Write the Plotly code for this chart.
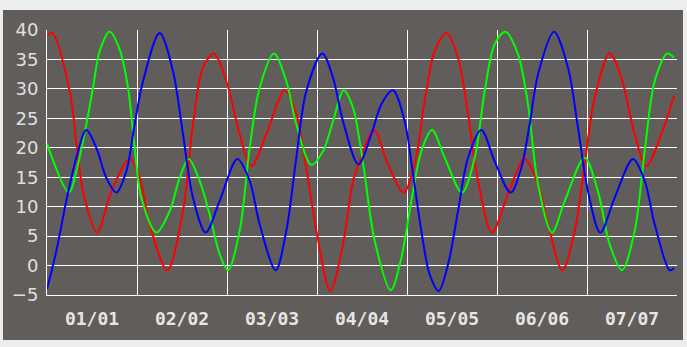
import plotly.graph_objects as go

# x in "day index" units (0..7), category labels centred in each band
tick_pos = [0.5, 1.5, 2.5, 3.5, 4.5, 5.5, 6.5]
tick_labels = ["01/01", "02/02", "03/03", "04/04", "05/05", "06/06", "07/07"]
band_edges = [1, 2, 3, 4, 5, 6]

red_x = [0.0, 0.059, 0.252, 0.333, 0.4, 0.556, 0.715, 0.919, 1.03, 1.141, 1.337, 1.511, 1.622,
         1.733, 1.852, 1.993, 2.141, 2.27, 2.437, 2.641, 2.77, 2.881, 2.993, 3.148, 3.289, 3.4,
         3.474, 3.633, 3.789, 3.963, 4.085, 4.196, 4.307, 4.437, 4.567, 4.678, 4.789, 4.944,
         5.122, 5.307, 5.456, 5.567, 5.726, 5.863, 5.974, 6.085, 6.252, 6.381, 6.53, 6.659,
         6.826, 6.967]
red_y = [39.0, 39.5, 29.6, 20.0, 12.6, 5.6, 12.6, 18.1, 14.9, 7.0, -0.8, 9.25, 24.0,
         33.6, 36.0, 31.3, 22.3, 16.9, 22.3, 29.75, 25.7, 16.6, 5.9, -4.3, 3.6, 14.3,
         17.7, 23.0, 17.2, 12.4, 17.2, 27.9, 36.4, 39.5, 35.3, 25.7, 14.4, 5.6,
         12.1, 18.1, 13.8, 7.0, -0.8, 5.9, 17.2, 28.5, 36.0, 31.9, 22.3, 16.9,
         22.3, 28.8]

green_x = [0.0, 0.244, 0.326, 0.437, 0.511, 0.585, 0.696, 0.807, 0.9, 0.974, 1.048, 1.215,
           1.363, 1.474, 1.574, 1.696, 1.807, 1.919, 2.011, 2.141, 2.252, 2.363, 2.522,
           2.659, 2.77, 2.937, 3.067, 3.178, 3.296, 3.4, 3.474, 3.530, 3.641, 3.819,
           3.937, 4.048, 4.159, 4.278, 4.419, 4.611, 4.752, 4.863, 4.974, 5.093, 5.233,
           5.344, 5.456, 5.611, 5.752, 5.974, 6.122, 6.252, 6.389, 6.530, 6.641, 6.752,
           6.893, 6.967]
green_y = [20.7, 12.4, 16.0, 24.0, 30.2, 36.4, 39.7, 36.7, 30.2, 20.0, 11.5, 5.6,
           9.25, 14.9, 18.1, 14.4, 8.7, 1.9, -0.8, 5.9, 20.0, 30.2, 36.0,
           31.3, 24.0, 17.1, 19.4, 24.5, 29.75, 26.8, 21.1, 15.5, 4.2, -4.2,
           1.3, 10.95, 19.4, 23.0, 18.3, 12.4, 18.3, 29.6, 37.6, 39.7, 35.9,
           27.4, 13.8, 5.6, 10.95, 18.3, 12.6, 3.6, -0.8, 5.9, 19.4, 31.3,
           36.0, 35.3]

blue_x = [0.0, 0.104, 0.215, 0.326, 0.437, 0.548, 0.659, 0.77, 0.881, 0.974, 1.067, 1.252,
          1.4, 1.511, 1.622, 1.763, 1.919, 2.115, 2.252, 2.363, 2.541, 2.659, 2.77, 2.881,
          3.059, 3.178, 3.289, 3.46, 3.604, 3.715, 3.844, 3.974, 4.067, 4.159, 4.252,
          4.352, 4.456, 4.567, 4.678, 4.826, 4.974, 5.152, 5.270, 5.363, 5.456, 5.633,
          5.789, 5.9, 6.011, 6.148, 6.307, 6.511, 6.641, 6.752, 6.919, 6.967]
blue_y = [-4.0, 2.5, 11.0, 18.3, 23.0, 20.0, 14.9, 12.4, 16.0, 24.0, 31.3, 39.5,
          33.0, 22.3, 11.5, 5.6, 11.0, 18.1, 14.4, 7.0, -0.8, 5.9, 18.3, 29.6,
          36.0, 31.9, 24.5, 17.2, 22.3, 27.4, 29.75, 24.5, 15.5, 5.9, -1.5,
          -4.3, 0.2, 9.25, 18.3, 23.0, 17.7, 12.4, 16.6, 24.0, 32.5, 39.7,
          33.6, 23.4, 12.6, 5.6, 11.5, 18.1, 14.4, 7.0, -0.8, -0.4]

W, H = 687, 347
ML, MR, MT, MB = 47, 10, 30, 52
PW, PH = W - ML - MR, H - MT - MB

def px_x(p):
    return (p - ML) / PW

def px_y(p):
    return (H - MB - p) / PH

DARK = "#605d5a"

fig = go.Figure()
for xs, ys, col in [(red_x, red_y, "#ff0000"), (green_x, green_y, "#00ff00"), (blue_x, blue_y, "#0000ff")]:
    fig.add_trace(go.Scatter(x=xs, y=ys, mode="lines", line=dict(color=col, width=2, shape="spline", smoothing=0.9),
                             showlegend=False, hoverinfo="skip"))

fig.add_shape(type="rect", xref="paper", yref="paper", x0=px_x(3), x1=px_x(683), y0=px_y(340), y1=px_y(10),
              fillcolor=DARK, line=dict(width=0), layer="below")

# partially visible legend text below the frame (cut off by the window, as in the reference)
for txt, col, xp in [("l l", "#00ff00", 38), ("l l", "#0000ff", 110), ("t       l", "#ff0000", 153)]:
    fig.add_annotation(text=txt, x=px_x(xp), y=px_y(344), xref="paper", yref="paper", xanchor="center",
                       yanchor="top", showarrow=False, font=dict(size=14, color=col, family="DejaVu Sans"))

fig.update_layout(
    width=W, height=H,
    margin=dict(l=ML, r=MR, t=MT, b=MB, pad=0),
    paper_bgcolor="#eceeed",
    plot_bgcolor=DARK,
    xaxis=dict(range=[0, 7], tickmode="array", tickvals=tick_pos, ticktext=tick_labels,
               showgrid=False, zeroline=False, showline=True, linecolor="white", linewidth=1,
               ticks="", ticklabelstandoff=7,
               tickfont=dict(family="DejaVu Sans Mono", size=18, color="#e6e6e6", weight="bold"),
               minor=dict(tickmode="array", tickvals=band_edges, showgrid=True, gridcolor="white", gridwidth=1, ticks=""),
               fixedrange=True),
    yaxis=dict(range=[-5, 40], dtick=5, tick0=0, showgrid=True, gridcolor="white", gridwidth=1,
               zeroline=False, showline=True, linecolor="white", linewidth=1, ticks="", ticklabelstandoff=4,
               tickfont=dict(family="DejaVu Sans", size=18, color="#e0e0e0"), fixedrange=True),
)

fig.write_html("out.html")
